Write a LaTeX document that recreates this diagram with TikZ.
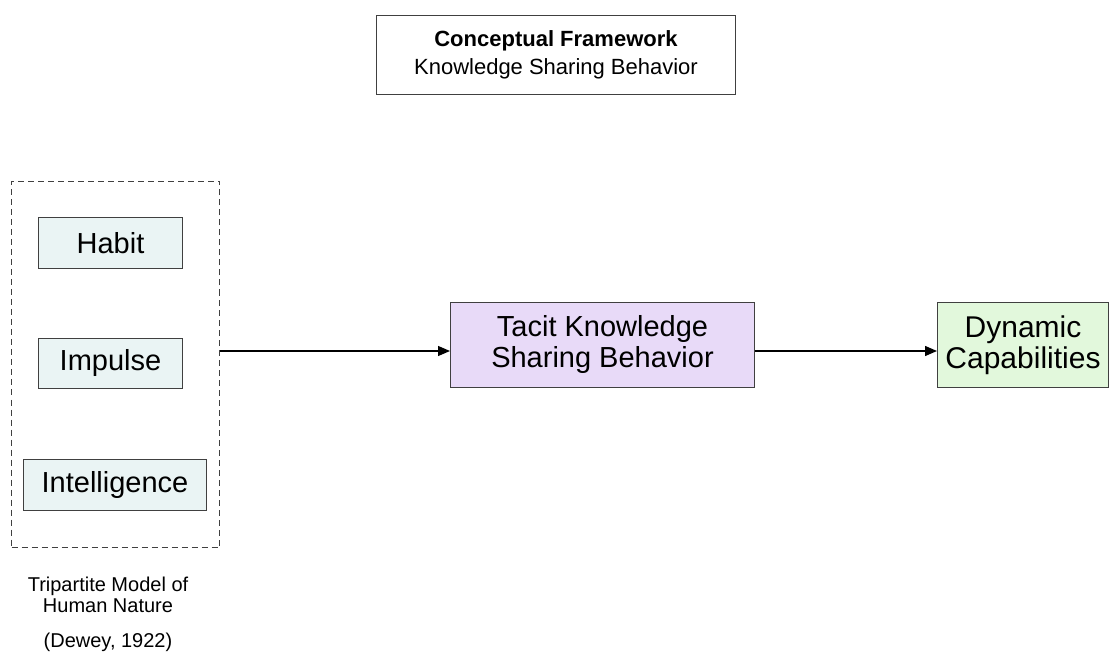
\documentclass[tikz,border=0pt]{standalone}
\usepackage{fontspec}
\setmainfont{Liberation Sans}
\usetikzlibrary{arrows.meta}
\definecolor{hbfill}{HTML}{EAF4F4}
\definecolor{tkfill}{HTML}{E8DAF8}
\definecolor{dcfill}{HTML}{E2F8DC}
\definecolor{edge}{HTML}{404040}
\begin{document}
\begin{tikzpicture}[x=1pt,y=-1pt,
  box/.style={draw=edge, line width=1pt, inner sep=0pt, anchor=north west},
  conn/.style={draw=black, line width=1.3pt, -{Triangle[length=12pt,width=10pt]}},
  lbl/.style={font=\fontsize{20}{21}\selectfont, align=center}
]
\useasboundingbox (0,0) rectangle (1111,660);
% title
\node[box, minimum width=359pt, minimum height=79pt, align=center, font=\fontsize{22}{28}\selectfont] (title) at (376,15)
  {\textbf{Conceptual Framework}\\Knowledge Sharing Behavior};
% dashed group
\node[draw=edge, dash pattern=on 6pt off 4pt, line width=1pt, minimum width=208pt, minimum height=366pt, anchor=north west, inner sep=0pt] (group) at (11,181) {};
\node[box, fill=hbfill, minimum width=144pt, minimum height=51pt, font=\fontsize{29}{34}\selectfont] (habit) at (38,217) {Habit};
\node[box, fill=hbfill, minimum width=144pt, minimum height=50pt, font=\fontsize{29}{34}\selectfont] (impulse) at (38,338) {Impulse};
\node[box, fill=hbfill, minimum width=183pt, minimum height=51pt, font=\fontsize{29}{34}\selectfont] (intel) at (23,459) {Intelligence};
% main boxes
\node[box, fill=tkfill, minimum width=304pt, minimum height=85pt, align=center, font=\fontsize{29}{31}\selectfont] (tacit) at (450,302)
  {Tacit Knowledge\\Sharing Behavior};
\node[box, fill=dcfill, minimum width=171pt, minimum height=85pt, align=center, font=\fontsize{30}{31}\selectfont] (dyn) at (937,302)
  {Dynamic\\Capabilities};
% connectors
\coordinate (g1) at (group.east |- 0,351);
\coordinate (t1) at (tacit.west |- 0,351);
\coordinate (t2) at (tacit.east |- 0,351);
\coordinate (d1) at (dyn.west |- 0,351);
\draw[conn] (g1) -- (t1);
\draw[conn] (t2) -- (d1);
% caption
\node[lbl] (cap) at (108,595) {Tripartite Model of\\Human Nature};
\node[lbl] (cite) at (108,642) {(Dewey, 1922)};
\end{tikzpicture}
\end{document}
